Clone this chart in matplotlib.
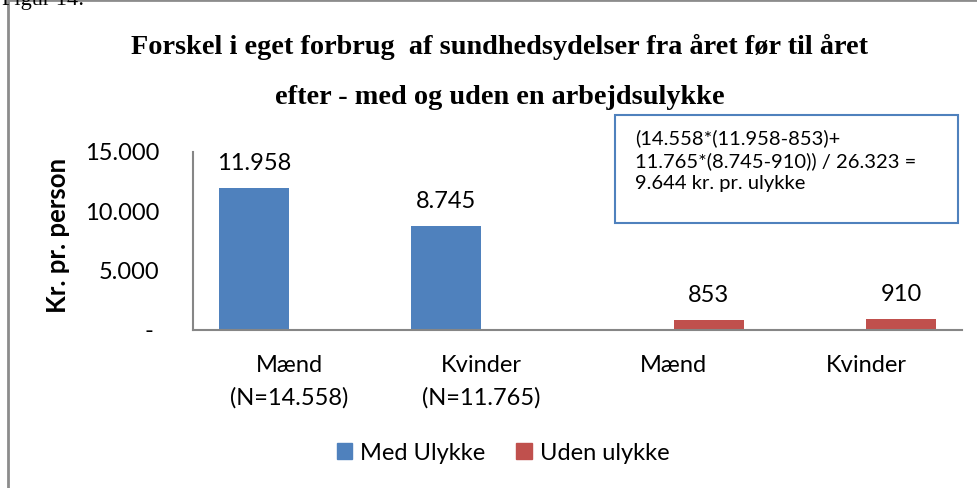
import matplotlib
matplotlib.use("Agg")
import matplotlib.pyplot as plt
from matplotlib.patches import Rectangle, Patch
from matplotlib.ticker import FixedLocator

categories = ["Mænd\n(N=14.558)", "Kvinder\n(N=11.765)", "Mænd", "Kvinder"]
med_ulykke = [11958, 8745, 0, 0]
uden_ulykke = [0, 0, 853, 910]
y_ticks = [0, 5000, 10000, 15000]
y_tick_labels = ["- ", "5.000", "10.000", "15.000"]

BLUE = "#4F81BD"
RED = "#C0504D"
SANS = "Lato"
SERIF = "Liberation Serif"

W, H = 978, 488
fig = plt.figure(figsize=(W / 100, H / 100), dpi=100)


def fx(px):
	return px / W


def fy(py):
	return 1 - py / H


# outer frame of the chart (runs off the right and bottom edge)
fig.patches.append(Rectangle((fx(8), fy(600)), fx(1100), 600 / H, transform=fig.transFigure,
							 fill=False, edgecolor="#8c8c8c", linewidth=2))
fig.text(fx(2), fy(5), "Figur 14:", family=SERIF, fontsize=16, va="baseline", ha="left")

ax = fig.add_axes([fx(193), fy(330), fx(962 - 193), (330 - 152) / H])
x = range(len(categories))
bw = 0.365
b1 = ax.bar([i - bw / 2 for i in x], med_ulykke, width=bw, color=BLUE, label="Med Ulykke")
b2 = ax.bar([i + bw / 2 for i in x], uden_ulykke, width=bw, color=RED, label="Uden ulykke")

for bars, vals in ((b1, med_ulykke), (b2, uden_ulykke)):
	for rect, v in zip(bars, vals):
		if v == 0:
			continue
		ax.annotate(f"{v:,}".replace(",", "."), (rect.get_x() + rect.get_width() / 2, v),
					xytext=(0, 10), textcoords="offset points", ha="center", va="bottom",
					family=SANS, fontsize=17)

ax.set_xlim(-0.5, 3.5)
ax.set_ylim(0, 15000)
ax.yaxis.set_major_locator(FixedLocator(y_ticks))
ax.set_yticklabels(y_tick_labels, family=SANS, fontsize=17)
ax.set_xticks(list(x))
ax.set_xticklabels(categories, family=SANS, fontsize=17, linespacing=1.65)
ax.tick_params(axis="y", length=0, pad=24)
ax.tick_params(axis="x", length=0, pad=18)
for s in ("top", "right"):
	ax.spines[s].set_visible(False)
for s in ("left", "bottom"):
	ax.spines[s].set_color("#868686")
	ax.spines[s].set_linewidth(1.5)

ax.set_ylabel("Kr. pr. person", family=SANS, fontsize=18.5, fontweight="bold")
ax.yaxis.set_label_coords(-0.16, 0.53)

fig.text(fx(500), fy(47), "Forskel i eget forbrug  af sundhedsydelser fra året før til året",
		 family=SERIF, fontsize=20.3, fontweight="bold", ha="center", va="center")
fig.text(fx(500), fy(98), "efter - med og uden en arbejdsulykke",
		 family=SERIF, fontsize=20.3, fontweight="bold", ha="center", va="center")

# formula box
fig.patches.append(Rectangle((fx(615), fy(223)), fx(958 - 615), (223 - 115) / H, transform=fig.transFigure,
							 fill=True, facecolor="white", edgecolor=BLUE, linewidth=1.5, zorder=5))
fig.text(fx(635), fy(129), "(14.558*(11.958-853)+\n11.765*(8.745-910)) / 26.323 =\n9.644 kr. pr. ulykke",
		 family=SANS, fontsize=14.5, ha="left", va="top", linespacing=1.36, zorder=6)

handles = [Patch(color=BLUE, label="Med Ulykke"), Patch(color=RED, label="Uden ulykke")]
fig.legend(handles=handles, loc="center", bbox_to_anchor=(fx(503), fy(453)), ncol=2, frameon=False,
		   prop={"family": SANS, "size": 17}, handlelength=0.65, handleheight=0.65, handletextpad=0.35,
		   columnspacing=1.3)

fig.savefig("out.png", dpi=100)
